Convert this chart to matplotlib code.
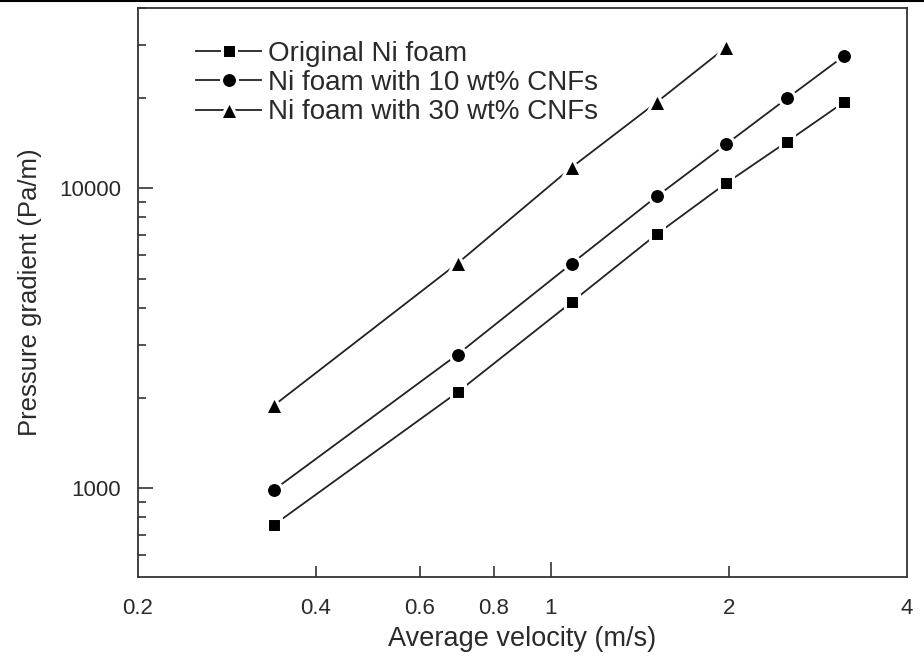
import matplotlib.pyplot as plt
from matplotlib.lines import Line2D
from matplotlib.ticker import FixedLocator, FixedFormatter, NullFormatter

plt.rcParams['font.family'] = ['Liberation Sans', 'DejaVu Sans']

# data
v_orig = [0.34, 0.695, 1.084, 1.51, 1.98, 2.51, 3.13]
p_orig = [754, 2088, 4175, 7036, 10416, 14330, 19390]

v_10 = [0.34, 0.695, 1.084, 1.51, 1.98, 2.51, 3.13]
p_10 = [987, 2791, 5610, 9403, 14060, 19990, 27640]

v_30 = [0.34, 0.695, 1.084, 1.51, 1.98]
p_30 = [1888, 5622, 11755, 19390, 29620]

labels = ['Original Ni foam', 'Ni foam with 10 wt% CNFs', 'Ni foam with 30 wt% CNFs']

x_major = [1]
x_minor = [0.4, 0.6, 0.8, 2]
x_ticklabels = ['0.2', '0.4', '0.6', '0.8', '1', '2', '4']
x_labelpos = [0.2, 0.4, 0.6, 0.8, 1, 2, 4]

txt = '#2a2a2a'

fig = plt.figure(figsize=(9.24, 6.61), dpi=100)
ax = fig.add_axes([0.149, 0.127, 0.8325, 0.861])

# thin rule across the top of the image
fig.add_artist(Line2D([0, 1], [0.998, 0.998], transform=fig.transFigure, color='black', lw=1.5))

common = dict(color='#222222', lw=1.3, mec='white', mfc='black', mew=2.2)
ax.plot(v_orig, p_orig, marker='s', ms=10.5, label=labels[0], **common)
ax.plot(v_10, p_10, marker='o', ms=11.5, label=labels[1], **common)
ax.plot(v_30, p_30, marker='^', ms=13, label=labels[2], **common)

ax.set_xscale('log')
ax.set_yscale('log')
ax.set_xlim(0.2, 4)
ax.set_ylim(505, 40000)

# x ticks: only a major tick at 1, small ticks at 0.4, 0.6, 0.8, 2; labels at all
ax.xaxis.set_major_locator(FixedLocator(x_major))
ax.xaxis.set_minor_locator(FixedLocator(x_minor))
ax.xaxis.set_major_formatter(NullFormatter())
ax.xaxis.set_minor_formatter(NullFormatter())
for xv, xl in zip(x_labelpos, x_ticklabels):
    ax.text(xv, -0.036, xl, transform=ax.get_xaxis_transform(), ha='center', va='top',
            fontsize=16, color=txt)

ax.yaxis.set_major_locator(FixedLocator([1000, 10000]))
ax.yaxis.set_major_formatter(FixedFormatter(['1000', '10000']))
ax.yaxis.set_minor_formatter(NullFormatter())

ax.tick_params(which='both', direction='in', color='#333333', width=1.2)
ax.tick_params(which='major', length=11, labelsize=16, labelcolor=txt, pad=12)
ax.tick_params(which='minor', length=6)
ax.tick_params(axis='x', which='minor', length=8)

for s in ax.spines.values():
    s.set_color('#333333')
    s.set_linewidth(1.3)

ax.set_xlabel('Average velocity (m/s)', fontsize=19.5, color=txt, labelpad=23)
ax.set_ylabel('Pressure gradient (Pa/m)', fontsize=18.5, color=txt, labelpad=12)

ax.legend(loc='upper left', bbox_to_anchor=(0.058, 0.967), frameon=False, fontsize=20,
          handlelength=2.34, handletextpad=0.25, labelspacing=0.12, borderpad=0,
          labelcolor=txt)

fig.savefig('out.png', dpi=100)
